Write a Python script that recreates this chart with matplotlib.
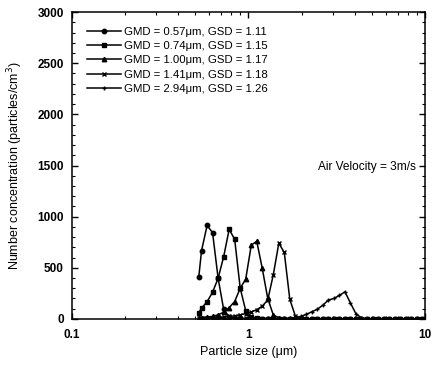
import matplotlib.pyplot as plt
from matplotlib.ticker import FixedLocator, MultipleLocator, LogLocator, NullFormatter

plt.rcParams['font.family'] = ['Liberation Sans', 'DejaVu Sans']

# APS channel midpoints (um)
sizes = [0.523, 0.542, 0.583, 0.626, 0.673, 0.723, 0.777, 0.835, 0.898, 0.965,
         1.037, 1.114, 1.197, 1.286, 1.382, 1.486, 1.596, 1.715, 1.843, 1.981,
         2.129, 2.288, 2.458, 2.642, 2.839, 3.051, 3.278, 3.523, 3.786, 4.068,
         4.371, 4.698, 5.048, 5.425, 5.829, 6.264, 6.732, 7.234, 7.774, 8.354,
         8.977, 9.647]

conc_057 = [413, 667, 915, 843, 398, 95, 20, 8, 5, 3,
            2, 1, 1, 0, 0, 0, 0, 0, 0, 0,
            0, 0, 0, 0, 0, 0, 0, 0, 0, 0,
            0, 0, 0, 0, 0, 0, 0, 0, 0, 0,
            0, 0]
conc_074 = [62, 104, 169, 261, 398, 606, 875, 780, 300, 80,
            20, 8, 4, 2, 1, 1, 0, 0, 0, 0,
            0, 0, 0, 0, 0, 0, 0, 0, 0, 0,
            0, 0, 0, 0, 0, 0, 0, 0, 0, 0,
            0, 0]
conc_100 = [10, 12, 18, 25, 40, 65, 110, 170, 300, 390,
            720, 760, 495, 200, 40, 10, 4, 2, 1, 1,
            0, 0, 0, 0, 0, 0, 0, 0, 0, 0,
            0, 0, 0, 0, 0, 0, 0, 0, 0, 0,
            0, 0]
conc_141 = [5, 6, 8, 10, 14, 18, 24, 30, 40, 52,
            68, 90, 125, 185, 430, 740, 650, 192, 30, 5,
            2, 1, 1, 0, 0, 0, 0, 0, 0, 0,
            0, 0, 0, 0, 0, 0, 0, 0, 0, 0,
            0, 0]
conc_294 = [2, 2, 3, 3, 3, 3, 3, 4, 4, 4,
            4, 4, 4, 5, 5, 5, 5, 6, 10, 25,
            45, 70, 95, 135, 185, 200, 230, 265, 155, 50,
            10, 3, 1, 1, 1, 1, 1, 1, 1, 1,
            1, 1]

labels = ['GMD = 0.57\u03bcm, GSD = 1.11',
          'GMD = 0.74\u03bcm, GSD = 1.15',
          'GMD = 1.00\u03bcm, GSD = 1.17',
          'GMD = 1.41\u03bcm, GSD = 1.18',
          'GMD = 2.94\u03bcm, GSD = 1.26']

fig = plt.figure(figsize=(4.34, 3.67), dpi=100)
ax = fig.add_axes([0.166, 0.131, 0.813, 0.836])

series = [conc_057, conc_074, conc_100, conc_141, conc_294]
markers = ['o', 's', '^', 'x', '+']
for vals, m, lab in zip(series, markers, labels):
    ax.plot(sizes, vals, color='black', lw=1.1, marker=m, ms=3.2,
            mew=1.0, label=lab)

ax.set_xscale('log')
ax.set_xlim(0.1, 10)
ax.set_ylim(0, 3000)
ax.xaxis.set_major_locator(FixedLocator([0.1, 1, 10]))
ax.set_xticklabels(['0.1', '1', '10'])
ax.xaxis.set_minor_locator(LogLocator(base=10, subs=range(2, 10)))
ax.xaxis.set_minor_formatter(NullFormatter())
ax.yaxis.set_major_locator(MultipleLocator(500))
ax.yaxis.set_minor_locator(MultipleLocator(100))

ax.tick_params(which='both', direction='in', top=True, right=True,
               labelsize=8.5)
ax.tick_params(which='major', length=4.5, width=1)
ax.tick_params(which='minor', length=2.2, width=0.8)
for lbl in ax.get_xticklabels() + ax.get_yticklabels():
    lbl.set_fontweight('bold')
ax.tick_params(axis='x', pad=7)
ax.tick_params(axis='y', pad=6)
for sp in ax.spines.values():
    sp.set_linewidth(1.1)

ax.set_xlabel('Particle size (\u03bcm)', fontsize=9, labelpad=4)
ax.set_ylabel('Number concentration (particles/cm$^3$)', fontsize=9,
              labelpad=9)
ax.text(2.48, 1485, 'Air Velocity = 3m/s', fontsize=8.6, va='center')

ax.legend(loc='upper left', frameon=False, fontsize=8.2, handlelength=3.0,
          handletextpad=0.25, labelspacing=0.37, borderaxespad=0.9,
          borderpad=0.4)

fig.savefig('out.png', dpi=100)
